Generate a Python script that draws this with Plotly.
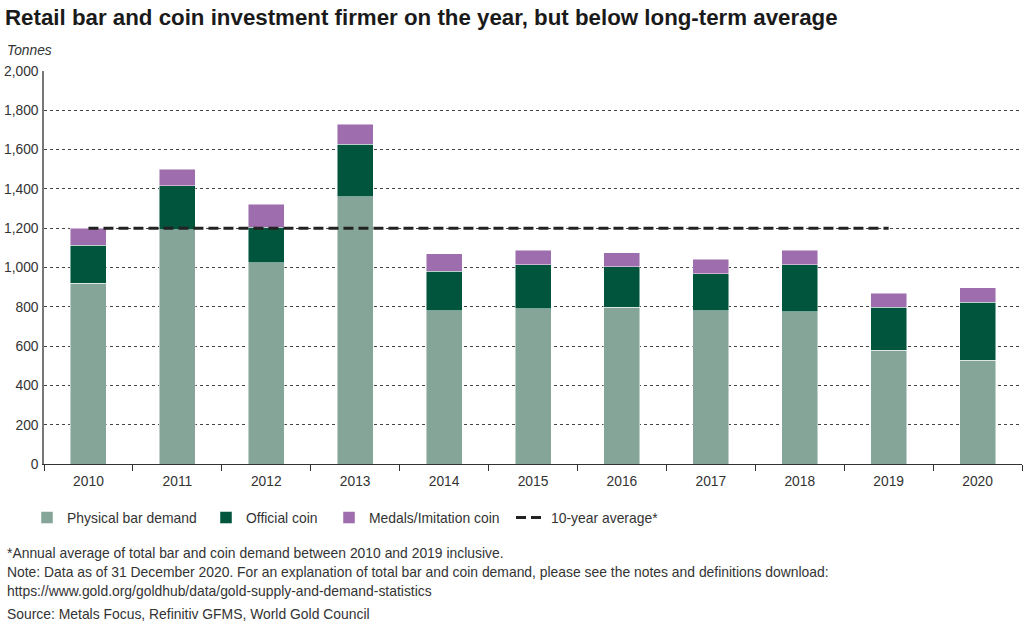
import plotly.graph_objects as go

years = ['2010', '2011', '2012', '2013', '2014', '2015', '2016', '2017', '2018', '2019', '2020']
physical_bar = [921, 1191, 1023, 1359, 779, 789, 799, 779, 774, 580, 529]
official_coin = [193, 224, 183, 269, 203, 224, 204, 188, 239, 219, 295]
medals = [87, 86, 117, 102, 87, 76, 71, 76, 76, 71, 72]
avg_years = ['2010', '2019']
avg_value = [1200, 1200]

FONT = "Liberation Sans"
L, R, T, B = 44, 14, 71, 162
PH = 626 - T - B
PW = 1036 - L - R

def py(pix):
    return (626 - B - pix) / PH

def px(pix):
    return (pix - L) / PW

edge = dict(width=0.8, color='rgba(255,255,255,0.6)')
fig = go.Figure()
fig.add_bar(x=years, y=physical_bar, name='Physical bar demand',
            marker=dict(color='#84A598', line=edge), legend='legend')
fig.add_bar(x=years, y=official_coin, name='Official coin',
            marker=dict(color='#00553C', line=edge), legend='legend2')
fig.add_bar(x=years, y=medals, name='Medals/Imitation coin',
            marker=dict(color='#9E6DAD', line=edge), legend='legend3')
fig.add_scatter(x=avg_years, y=avg_value, mode='lines', name='10-year average*',
                line=dict(color='#222222', width=3, dash='10px,5px'), legend='legend4')

def leg(xpix):
    return dict(orientation='h', x=px(xpix), xanchor='left', y=py(518), yanchor='middle',
                font=dict(family=FONT, size=13.9, color='#333333'),
                itemwidth=30, bgcolor='rgba(0,0,0,0)')

fig.update_layout(
    width=1036, height=626,
    barmode='stack', bargap=0.595,
    paper_bgcolor='white', plot_bgcolor='white',
    margin=dict(l=L, r=R, t=T, b=B, autoexpand=False),
    font=dict(family=FONT, size=13, color='#333333'),
    title=dict(text='<b>Retail bar and coin investment firmer on the year, but below long-term average</b>',
               x=5 / 1036, xanchor='left', xref='container',
               y=1 - 17 / 626, yanchor='middle', yref='container',
               font=dict(family=FONT, size=22.3, color='#1a1a1a')),
    showlegend=True,
    legend=leg(27),
    legend2=leg(206),
    legend3=leg(329),
    legend4=leg(511),
    xaxis=dict(type='category', showgrid=False, showline=True, linecolor='#333333', linewidth=1.2,
               ticks='outside', ticklen=6, tickcolor='#333333', tickson='boundaries',
               ticklabelstandoff=4,
               tickfont=dict(family=FONT, size=13.8, color='#333333'), fixedrange=True),
    yaxis=dict(range=[0, 2000], tickvals=list(range(0, 2001, 200)), tickformat=',',
               showgrid=True, gridcolor='#444444', griddash='dot', gridwidth=1,
               showline=True, linecolor='#777777', linewidth=1.5, zeroline=False,
               ticks='', ticklabelstandoff=1,
               tickfont=dict(family=FONT, size=13.8, color='#333333'), fixedrange=True),
)

fig.add_annotation(text='<i>Tonnes</i>', xref='paper', yref='paper', x=px(5), y=py(50),
                   xanchor='left', yanchor='middle', showarrow=False,
                   font=dict(family=FONT, size=13.8, color='#333333'))

footer = [
    ('*Annual average of total bar and coin demand between 2010 and 2019 inclusive.', 553),
    ('Note: Data as of 31 December 2020. For an explanation of total bar and coin demand, please see the notes and definitions download:', 572),
    ('https://www.gold.org/goldhub/data/gold-supply-and-demand-statistics', 591),
    ('Source: Metals Focus, Refinitiv GFMS, World Gold Council', 614),
]
for txt, ypix in footer:
    fig.add_annotation(text=txt, xref='paper', yref='paper', x=px(5), y=py(ypix),
                       xanchor='left', yanchor='middle', showarrow=False,
                       font=dict(family=FONT, size=13.9, color='#333333'))

fig.write_html('out.html', config={'displayModeBar': False})

with open('out.html', 'r', encoding='utf-8') as f:
    html = f.read()
html = html.replace('<body>', '<body style="margin:0;padding:0;overflow:hidden">', 1)
with open('out.html', 'w', encoding='utf-8') as f:
    f.write(html)
